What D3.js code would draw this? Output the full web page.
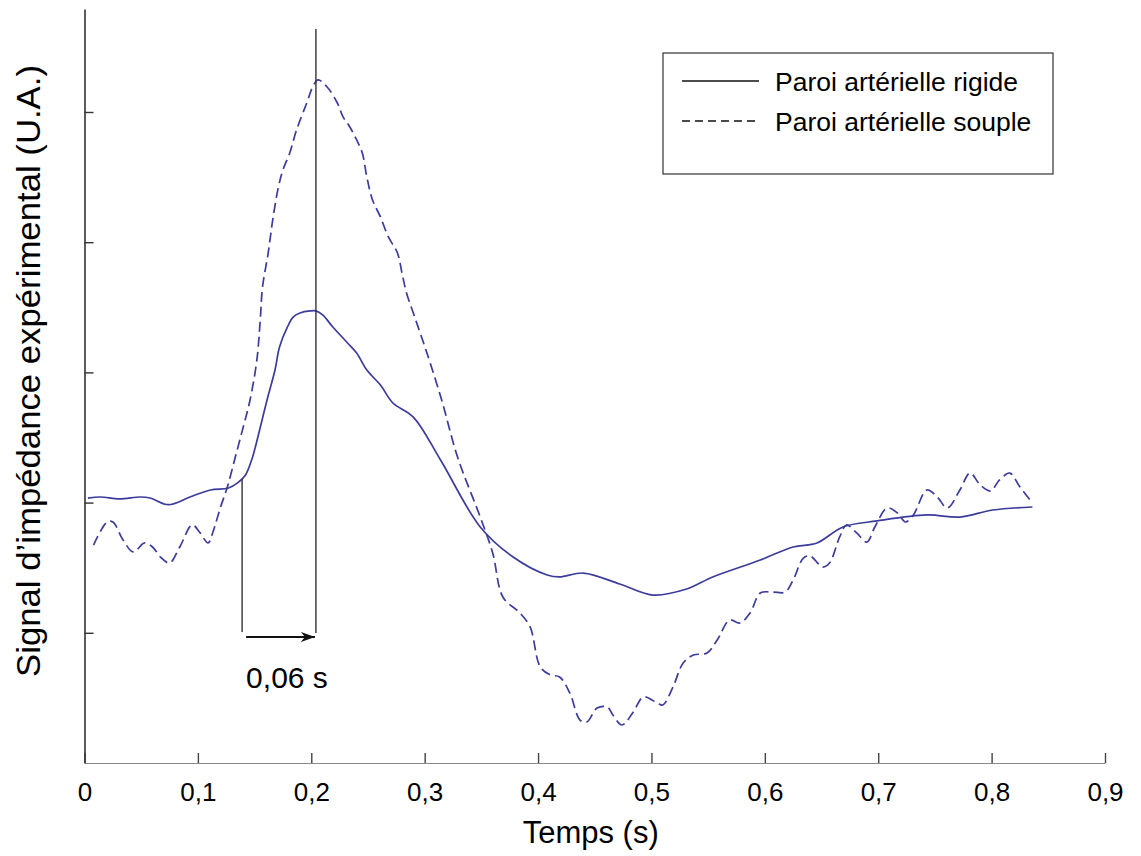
<!DOCTYPE html>
<html>
<head>
<meta charset="utf-8">
<script src="https://cdn.jsdelivr.net/npm/d3@7"></script>
<style>
  html, body { margin: 0; padding: 0; background: #fff; }
  svg { display: block; font-family: "Liberation Sans", Arial, sans-serif; }
</style>
</head>
<body>
<svg id="chart" width="1141" height="856"></svg>
<script>
// ---------- data ----------
const xTicks = [0, 0.1, 0.2, 0.3, 0.4, 0.5, 0.6, 0.7, 0.8, 0.9];
const xTickLabels = ["0", "0,1", "0,2", "0,3", "0,4", "0,5", "0,6", "0,7", "0,8", "0,9"];
const yTicks = [1, 2, 3, 4, 5];
const seriesNames = ["Paroi artérielle rigide", "Paroi artérielle souple"];

// Paroi artérielle rigide (solid)
const rigideX = [0.003, 0.014, 0.031, 0.049, 0.058, 0.074, 0.093, 0.111, 0.127, 0.135, 0.142, 0.148, 0.150,
  0.161, 0.168, 0.172, 0.179, 0.184, 0.190, 0.199, 0.204, 0.210, 0.219, 0.232, 0.240, 0.249, 0.261, 0.272,
  0.290, 0.314, 0.349, 0.378, 0.408, 0.419, 0.440, 0.472, 0.501, 0.531, 0.554, 0.596, 0.625, 0.646, 0.669,
  0.699, 0.743, 0.772, 0.801, 0.836];
const rigideY = [2.035, 2.043, 2.028, 2.043, 2.035, 1.984, 2.043, 2.097, 2.112, 2.151, 2.212, 2.343, 2.404,
  2.788, 3.018, 3.195, 3.349, 3.425, 3.456, 3.472, 3.472, 3.441, 3.349, 3.226, 3.149, 3.018, 2.903, 2.765,
  2.657, 2.327, 1.813, 1.582, 1.444, 1.429, 1.459, 1.375, 1.290, 1.336, 1.429, 1.559, 1.659, 1.690, 1.813,
  1.859, 1.905, 1.889, 1.943, 1.966];

// Paroi artérielle souple (dashed)
const soupleX = [0.008, 0.020, 0.025, 0.034, 0.043, 0.053, 0.060, 0.067, 0.075, 0.084, 0.095, 0.102, 0.109,
  0.113, 0.120, 0.126, 0.133, 0.140, 0.146, 0.152, 0.155, 0.157, 0.162, 0.166, 0.171, 0.175, 0.181, 0.187,
  0.196, 0.202, 0.206, 0.214, 0.223, 0.228, 0.234, 0.240, 0.245, 0.249, 0.254, 0.261, 0.268, 0.276, 0.280,
  0.284, 0.290, 0.296, 0.302, 0.315, 0.329, 0.349, 0.360, 0.369, 0.384, 0.393, 0.402, 0.411, 0.419, 0.428,
  0.437, 0.443, 0.452, 0.461, 0.466, 0.474, 0.484, 0.493, 0.505, 0.510, 0.519, 0.528, 0.537, 0.549, 0.558,
  0.569, 0.578, 0.587, 0.596, 0.607, 0.618, 0.625, 0.634, 0.640, 0.651, 0.657, 0.666, 0.672, 0.681, 0.690,
  0.697, 0.708, 0.717, 0.724, 0.731, 0.743, 0.752, 0.761, 0.772, 0.781, 0.790, 0.799, 0.807, 0.816, 0.825, 0.836];
const soupleY = [1.674, 1.851, 1.851, 1.713, 1.621, 1.690, 1.659, 1.582, 1.536, 1.659, 1.828, 1.767, 1.690,
  1.767, 1.966, 2.120, 2.350, 2.581, 2.788, 3.095, 3.402, 3.656, 3.917, 4.171, 4.424, 4.555, 4.685, 4.862,
  5.069, 5.207, 5.246, 5.192, 5.069, 4.962, 4.885, 4.785, 4.685, 4.501, 4.324, 4.194, 4.040, 3.917, 3.763,
  3.610, 3.456, 3.303, 3.149, 2.788, 2.350, 1.889, 1.613, 1.275, 1.152, 1.045, 0.737, 0.676, 0.661, 0.538,
  0.330, 0.315, 0.422, 0.430, 0.369, 0.292, 0.392, 0.507, 0.461, 0.445, 0.584, 0.768, 0.829, 0.845, 0.945,
  1.098, 1.075, 1.152, 1.306, 1.313, 1.313, 1.406, 1.574, 1.590, 1.505, 1.536, 1.736, 1.828, 1.767, 1.697,
  1.813, 1.959, 1.920, 1.851, 1.905, 2.097, 2.043, 1.959, 2.097, 2.227, 2.135, 2.089, 2.174, 2.227, 2.120, 1.997];

// Annotation: delay between onset and peak
const markerX = [0.139, 0.2041];      // vertical guide lines
const markerTop = [2.181, 5.637];
const markerBottom = [1.006, 0.998];
const arrowY = 0.968;
const annotationText = "0,06 s";

// ---------- layout ----------
const svg = d3.select("#chart");
const lineColor = "#3c3c9c";
const x = d3.scaleLinear().domain([0, 0.9]).range([84.5, 1105]);
const y = d3.scaleLinear().domain([0, 5.791]).range([763, 9]);

// axes
const xAxis = d3.axisBottom(x).tickValues(xTicks)
  .tickFormat((d, i) => xTickLabels[i]).tickSizeInner(-10).tickSizeOuter(0).tickPadding(20);
const gx = svg.append("g").attr("transform", `translate(0,${y(0)})`).call(xAxis);
gx.select(".domain").attr("stroke", "#8a8a8a").attr("stroke-width", 1.2);
gx.selectAll(".tick line").attr("stroke", "#444").attr("stroke-width", 1.4);
gx.selectAll(".tick text").attr("font-size", 26).attr("fill", "#000")
  .attr("font-family", "Liberation Sans, Arial, sans-serif");

const yAxis = d3.axisLeft(y).tickValues(yTicks).tickFormat("").tickSizeInner(-9).tickSizeOuter(0);
const gy = svg.append("g").attr("transform", `translate(${x(0)},0)`).call(yAxis);
gy.select(".domain").attr("stroke", "#333").attr("stroke-width", 1.6);
gy.selectAll(".tick line").attr("stroke", "#333").attr("stroke-width", 1.4);

// axis titles
svg.append("text")
  .attr("x", (x(0) + x(0.9)) / 2 - 4).attr("y", 843)
  .attr("text-anchor", "middle").attr("font-size", 31).attr("fill", "#000")
  .text("Temps (s)");

svg.append("text")
  .attr("transform", `translate(40,371) rotate(-90)`)
  .attr("text-anchor", "middle").attr("font-size", 33).attr("fill", "#000")
  .attr("textLength", 612).attr("lengthAdjust", "spacingAndGlyphs")
  .text("Signal d’impédance expérimental (U.A.)");

// series
const line = d3.line().x(d => x(d[0])).y(d => y(d[1])).curve(d3.curveCatmullRom.alpha(0.5));
const rigide = rigideX.map((v, i) => [v, rigideY[i]]);
const souple = soupleX.map((v, i) => [v, soupleY[i]]);

svg.append("path").datum(souple).attr("d", line)
  .attr("fill", "none").attr("stroke", lineColor).attr("stroke-width", 1.7)
  .attr("stroke-dasharray", "10,5");
svg.append("path").datum(rigide).attr("d", line)
  .attr("fill", "none").attr("stroke", lineColor).attr("stroke-width", 1.7);

// guide lines
markerX.forEach((mx, i) => {
  svg.append("line")
    .attr("x1", x(mx)).attr("x2", x(mx))
    .attr("y1", y(markerTop[i])).attr("y2", y(markerBottom[i]))
    .attr("stroke", "#333").attr("stroke-width", 1.4);
});

// arrow
const defs = svg.append("defs");
defs.append("marker").attr("id", "arrowhead")
  .attr("viewBox", "0 0 14 10").attr("refX", 14).attr("refY", 5)
  .attr("markerWidth", 14).attr("markerHeight", 10).attr("markerUnits", "userSpaceOnUse")
  .attr("orient", "auto")
  .append("path").attr("d", "M0,0 L14,5 L0,10 L4,5 Z").attr("fill", "#111");
svg.append("line")
  .attr("x1", x(markerX[0]) + 4).attr("x2", x(markerX[1]) - 1)
  .attr("y1", y(arrowY)).attr("y2", y(arrowY))
  .attr("stroke", "#111").attr("stroke-width", 2)
  .attr("marker-end", "url(#arrowhead)");
svg.append("text")
  .attr("x", x(markerX[0]) + 4).attr("y", 688)
  .attr("font-size", 30).attr("fill", "#000")
  .text(annotationText);

// legend
const lg = svg.append("g");
lg.append("rect").attr("x", 663).attr("y", 53).attr("width", 390).attr("height", 121)
  .attr("fill", "#fff").attr("stroke", "#333").attr("stroke-width", 1.2);
seriesNames.forEach((name, i) => {
  const ly = 81 + i * 40;
  lg.append("line").attr("x1", 682).attr("x2", 759).attr("y1", ly).attr("y2", ly)
    .attr("stroke", "#111").attr("stroke-width", 1.3)
    .attr("stroke-dasharray", i === 1 ? "8,5" : null);
  lg.append("text").attr("x", 775).attr("y", ly + 9.5)
    .attr("font-size", 26.5).attr("fill", "#000").text(name);
});
</script>
</body>
</html>
